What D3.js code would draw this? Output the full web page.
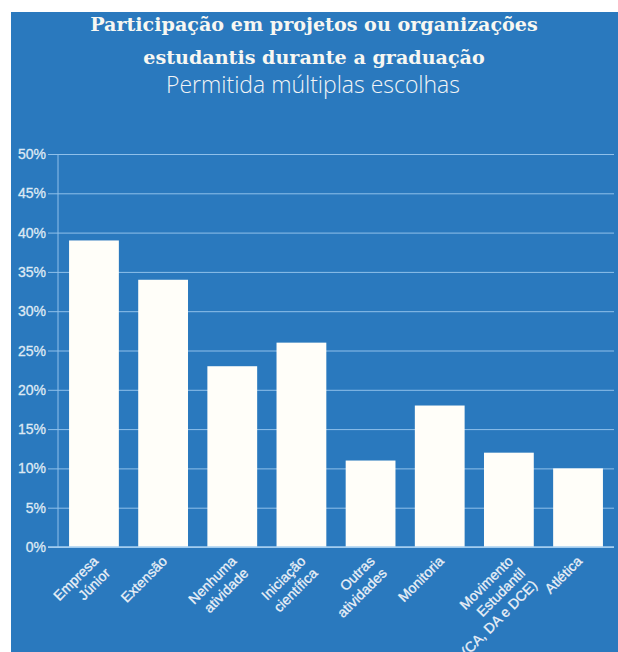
<!DOCTYPE html>
<html>
<head>
<meta charset="utf-8">
<script src="https://cdn.jsdelivr.net/npm/d3@7"></script>
<style>
  body { margin: 0; background: #fff; }
  svg { display: block; }
</style>
</head>
<body>
<svg id="chart" width="618" height="652"></svg>
<script>
// data
var categories = [
  ['Empresa', 'Júnior'],
  ['Extensão'],
  ['Nenhuma', 'atividade'],
  ['Iniciação', 'científica'],
  ['Outras', 'atividades'],
  ['Monitoria'],
  ['Movimento', 'Estudantil', '(CA, DA e DCE)'],
  ['Atlética']
];
var values = [39, 34, 23, 26, 11, 18, 12, 10];
var yTicks = [0, 5, 10, 15, 20, 25, 30, 35, 40, 45, 50];

var svg = d3.select('#chart');

svg.append('rect')
  .attr('x', 11).attr('y', 12)
  .attr('width', 607).attr('height', 640)
  .attr('fill', '#2a79be');

// titles
var t1 = svg.append('text')
  .attr('x', 314).attr('y', 31)
  .attr('text-anchor', 'middle')
  .attr('fill', '#f7f7f2')
  .style('font-family', '"DejaVu Serif", serif')
  .style('font-weight', 'bold')
  .style('font-size', '18px')
  .text('Participação em projetos ou organizações');
var t2 = svg.append('text')
  .attr('x', 314).attr('y', 64)
  .attr('text-anchor', 'middle')
  .attr('fill', '#f7f7f2')
  .style('font-family', '"DejaVu Serif", serif')
  .style('font-weight', 'bold')
  .style('font-size', '18px')
  .text('estudantis durante a graduação');
// fit title width to the reference (~448px for the first line)
var fs = 18 * 448 / t1.node().getComputedTextLength();
t1.style('font-size', fs + 'px');
t2.style('font-size', fs + 'px');

var st = svg.append('text')
  .attr('x', 313).attr('y', 93)
  .attr('text-anchor', 'middle')
  .attr('fill', '#f2f4f6')
  .style('font-family', '"Open Sans", Lato, sans-serif')
  .style('font-weight', 300)
  .style('font-size', '19px')
  .text('Permitida múltiplas escolhas');
var sfs = 19 * 294 / st.node().getComputedTextLength();
st.style('font-size', sfs + 'px');

var x = d3.scaleBand()
  .domain(d3.range(categories.length))
  .range([58, 614])
  .paddingInner(0.28)
  .paddingOuter(0.16);

var y = d3.scaleLinear()
  .domain([0, 50])
  .range([547, 154]);

// grid lines with tick stubs
var grid = svg.append('g')
  .attr('transform', 'translate(58,0)')
  .call(d3.axisLeft(y).tickValues(yTicks).tickSize(-556).tickFormat(''));
grid.select('.domain').remove();
grid.selectAll('.tick line')
  .attr('x1', -10)
  .attr('stroke', '#8fc0ea')
  .attr('stroke-width', 1);

svg.append('g').selectAll('text')
  .data(yTicks)
  .join('text')
  .attr('x', 46)
  .attr('y', function(d) { return y(d) + 5; })
  .attr('text-anchor', 'end')
  .attr('fill', '#dfe9f4')
  .attr('stroke', '#dfe9f4')
  .attr('stroke-width', 0.3)
  .style('font-family', '"Liberation Sans", Arial, sans-serif')
  .style('font-size', '14px')
  .text(function(d) { return d + '%'; });

// vertical axis line
svg.append('line')
  .attr('x1', 58).attr('x2', 58)
  .attr('y1', y(50)).attr('y2', y(0))
  .attr('stroke', '#8fc0ea');

svg.append('g').selectAll('rect')
  .data(values)
  .join('rect')
  .attr('x', function(d, i) { return x(i); })
  .attr('y', function(d) { return y(d); })
  .attr('width', x.bandwidth())
  .attr('height', function(d) { return y(0) - y(d); })
  .attr('fill', '#fffef9');

// baseline
svg.append('line')
  .attr('x1', 48).attr('x2', 614)
  .attr('y1', y(0)).attr('y2', y(0))
  .attr('stroke', '#a9d0f0')
  .attr('stroke-width', 1.5);

// rotated category labels
var labels = svg.append('g').selectAll('text')
  .data(categories)
  .join('text')
  .attr('transform', function(d, i) {
    return 'translate(' + (x(i) + x.bandwidth() / 2 + 5) + ',562) rotate(-45)';
  })
  .attr('text-anchor', 'end')
  .attr('fill', '#eaf0f7')
  .attr('stroke', '#eaf0f7')
  .attr('stroke-width', 0.3)
  .style('font-family', '"Liberation Sans", Arial, sans-serif')
  .style('font-size', '14px');

labels.selectAll('tspan')
  .data(function(d) { return d; })
  .join('tspan')
  .attr('x', 0)
  .attr('dy', function(d, i) { return i === 0 ? 0 : 17; })
  .text(function(d) { return d; });
</script>
</body>
</html>
